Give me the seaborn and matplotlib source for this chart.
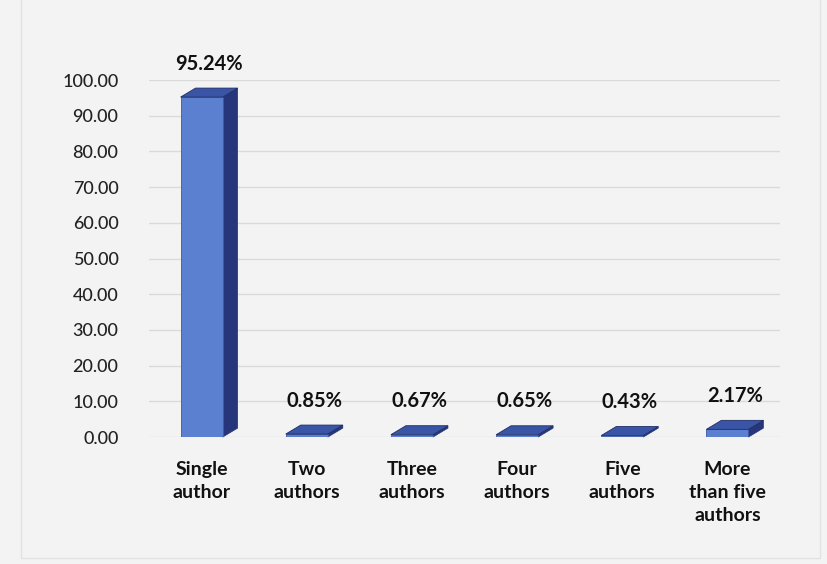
import matplotlib
matplotlib.use("Agg")
import matplotlib.pyplot as plt
import seaborn as sns
import pandas as pd
from matplotlib.patches import Polygon, Rectangle

categories = ["Single\nauthor", "Two\nauthors", "Three\nauthors", "Four\nauthors",
              "Five\nauthors", "More\nthan five\nauthors"]
values = [95.24, 0.85, 0.67, 0.65, 0.43, 2.17]
value_labels = ["95.24%", "0.85%", "0.67%", "0.65%", "0.43%", "2.17%"]
y_ticks = [0, 10, 20, 30, 40, 50, 60, 70, 80, 90, 100]

sns.set_style("white")
plt.rcParams["font.family"] = ["Lato", "DejaVu Sans"]

df = pd.DataFrame({"category": categories, "value": values})

fig = plt.figure(figsize=(8.28, 5.64), dpi=100, facecolor="#f3f3f3")
fig.add_artist(Rectangle((0.025, 0.01), 0.965, 1.0, transform=fig.transFigure,
                         fill=False, edgecolor="#e2e2e2", lw=1.0))
ax = fig.add_axes([0.18, 0.225, 0.762, 0.633])
ax.set_facecolor("none")

front = "#5b80cf"
side = "#27367a"
top = "#3a55a6"

sns.barplot(data=df, x="category", y="value", color=front, width=0.4,
            saturation=1, ax=ax, zorder=3, edgecolor="#3a5aa8", linewidth=0.6)

ax.set_ylim(0, 100)
ax.set_xlim(-0.5, 5.5)
ax.set_yticks(y_ticks)
ax.set_yticklabels([f"{t:.2f}" for t in y_ticks], fontsize=13, color="#222222",
                   fontweight="medium")
ax.tick_params(axis="y", length=0, pad=22)
ax.tick_params(axis="x", length=0, pad=17)
for lab in ax.get_xticklabels():
    lab.set_fontweight("bold")
    lab.set_fontsize(14)
    lab.set_color("#111111")
    lab.set_linespacing(1.45)
ax.set_xlabel("")
ax.set_ylabel("")
for s in ax.spines.values():
    s.set_visible(False)
ax.yaxis.grid(True, color="#dadada", lw=1.0, zorder=0)
ax.set_axisbelow(True)

# 3D depth offsets in pixels converted to data units
fig.canvas.draw()
p0 = ax.transData.transform((0, 0))
p1 = ax.transData.transform((1, 1))
dx = 15 / (p1[0] - p0[0])
dy = 9 / (p1[1] - p0[1])

for patch, lbl in zip(ax.patches, value_labels):
    x = patch.get_x()
    w = patch.get_width()
    h = patch.get_height()
    ax.add_patch(Polygon([(x + w, 0), (x + w + dx, dy), (x + w + dx, h + dy), (x + w, h)],
                         closed=True, facecolor=side, edgecolor=side, lw=0.5,
                         zorder=2.9, clip_on=False))
    ax.add_patch(Polygon([(x, h), (x + dx, h + dy), (x + w + dx, h + dy), (x + w, h)],
                         closed=True, facecolor=top, edgecolor="#1f2d66", lw=0.6,
                         zorder=3.1, clip_on=False))
    ax.text(x + w / 2 + dx / 2, h + dy + 4.0, lbl, ha="center", va="bottom",
            fontsize=14.5, fontweight="bold", color="#111111", zorder=5, clip_on=False)

fig.savefig("out.png", dpi=100, facecolor=fig.get_facecolor())
